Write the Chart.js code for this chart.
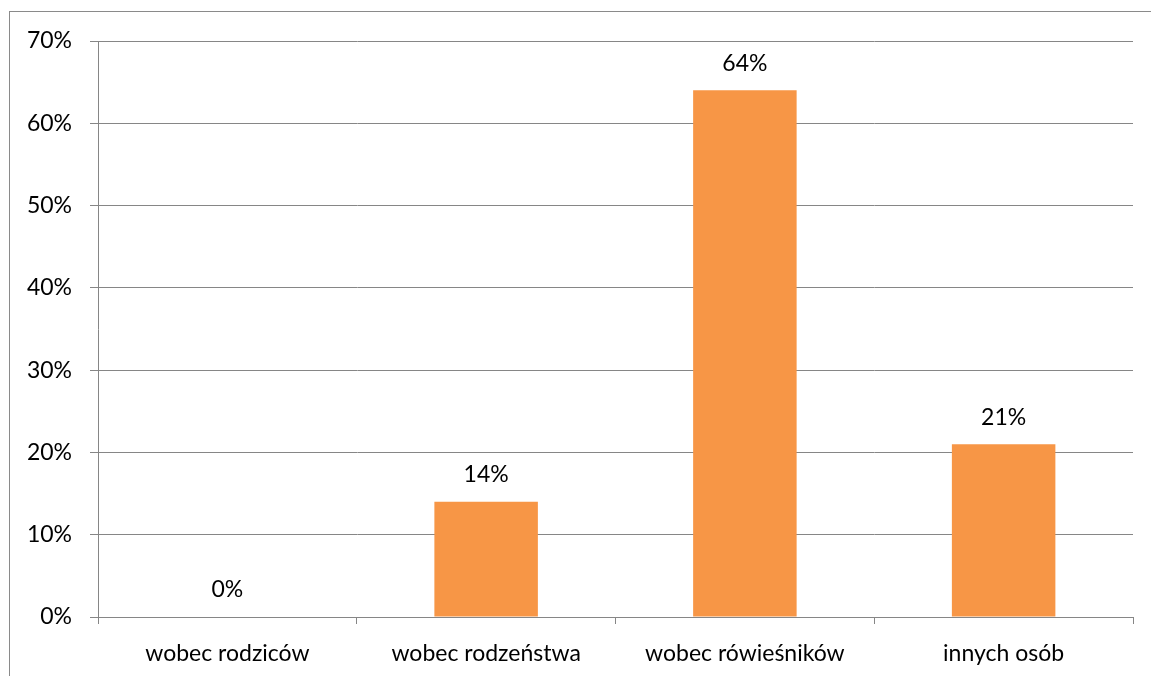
<!DOCTYPE html>
<html>
<head>
<meta charset="utf-8">
<script src="https://cdn.jsdelivr.net/npm/chart.js@4"></script>
<style>
    body { margin: 0; background: #fff; }
    #wrap { position: relative; width: 1151px; height: 676px; }
    #frame { position: absolute; left: 9px; top: 11px; width: 1160px; height: 700px; border: 1px solid #8a8a8a; box-sizing: border-box; }
    canvas { position: absolute; left: 0; top: 0; }
</style>
</head>
<body>
<div id="wrap">
    <div id="frame"></div>
    <canvas id="chart" width="1151" height="676"></canvas>
</div>
<script>
const categories = ["wobec rodziców", "wobec rodzeństwa", "wobec rówieśników", "innych osób"];
const values = [0, 14, 64, 21];
const yTicks = [0, 10, 20, 30, 40, 50, 60, 70];

const font = "Lato, 'Open Sans', sans-serif";
const fontSize = 23;

// labels above bars
const valueLabels = {
    id: "valueLabels",
    afterDatasetsDraw(chart) {
        const ctx = chart.ctx;
        const meta = chart.getDatasetMeta(0);
        ctx.save();
        ctx.font = fontSize + "px " + font;
        ctx.fillStyle = "#000";
        ctx.textAlign = "center";
        ctx.textBaseline = "middle";
        meta.data.forEach((bar, i) => {
            ctx.fillText(values[i] + "%", bar.x, bar.y - 27);
        });
        ctx.restore();
    }
};

new Chart(document.getElementById("chart"), {
    type: "bar",
    data: {
        labels: categories,
        datasets: [{
            data: values,
            backgroundColor: "#F79646",
            borderWidth: 0,
            categoryPercentage: 0.4,
            barPercentage: 1
        }]
    },
    options: {
        responsive: false,
        animation: false,
        layout: { padding: { left: 0, top: 41, right: 18, bottom: 0 } },
        plugins: { legend: { display: false }, tooltip: { enabled: false } },
        scales: {
            x: {
                grid: { offset: true, drawOnChartArea: false, drawTicks: true, tickLength: 7, color: "#868686" },
                border: { display: true, color: "#868686" },
                ticks: { color: "#000", font: { size: fontSize, family: font }, padding: 16, maxRotation: 0 },
                afterFit(scale) { scale.height = 59; }
            },
            y: {
                min: 0,
                max: 70,
                afterBuildTicks(scale) { scale.ticks = yTicks.map(v => ({ value: v })); },
                grid: { color: "#868686", tickLength: 8 },
                border: { display: true, color: "#868686" },
                ticks: { color: "#000", font: { size: fontSize, family: font }, padding: 18, callback: v => v + "%" },
                afterFit(scale) { scale.width = 98; }
            }
        }
    },
    plugins: [valueLabels]
});
</script>
</body>
</html>
